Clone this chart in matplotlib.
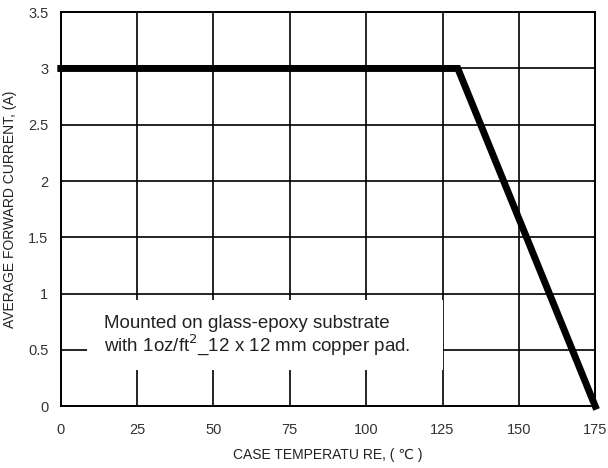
import matplotlib.pyplot as plt
from matplotlib.patches import Rectangle

plt.rcParams['font.family'] = ['Liberation Sans', 'DejaVu Sans']

# derating curve
temp = [0, 130, 175]
current = [3, 3, 0]

x_ticks = [0, 25, 50, 75, 100, 125, 150, 175]
y_ticks = [0, 0.5, 1, 1.5, 2, 2.5, 3, 3.5]
y_labels = ['0', '0.5', '1', '1.5', '2', '2.5', '3', '3.5']

note = "Mounted on glass-epoxy substrate\nwith 1oz/ft$^2$_12 x 12 mm copper pad."

fig = plt.figure(figsize=(6.08, 4.68), dpi=100)
ax = fig.add_axes([0.100, 0.132, 0.879, 0.842])

ax.set_xlim(0, 175)
ax.set_ylim(0, 3.5)
ax.set_xticks(x_ticks)
ax.set_yticks(y_ticks)
ax.set_yticklabels(y_labels)
ax.tick_params(length=0, labelsize=10.5, labelcolor='#333333')
ax.tick_params(axis='x', pad=12)
ax.tick_params(axis='y', pad=9)
ax.grid(True, color='black', linewidth=1.2)
ax.set_axisbelow(True)
for s in ax.spines.values():
    s.set_linewidth(1.4)

ax.plot(temp, current, color='black', linewidth=5, solid_joinstyle='miter', clip_on=False, zorder=3)

# white patch behind the note, hides the grid
ax.add_patch(Rectangle((0.049, 0.091), 0.666, 0.178, transform=ax.transAxes,
                       facecolor='white', edgecolor='none', zorder=2))
ax.text(0.0805, 0.178, note, transform=ax.transAxes, fontsize=13.5, color='#222222',
        va='center', ha='left', linespacing=1.0, zorder=4)

ax.set_xlabel('CASE TEMPERATU RE, ( \u2103 )', fontsize=10, color='#222222', labelpad=8)
ax.set_ylabel('AVERAGE FORWARD CURRENT, (A)', fontsize=10, color='#222222', labelpad=8)

fig.savefig('out.png', dpi=100)
